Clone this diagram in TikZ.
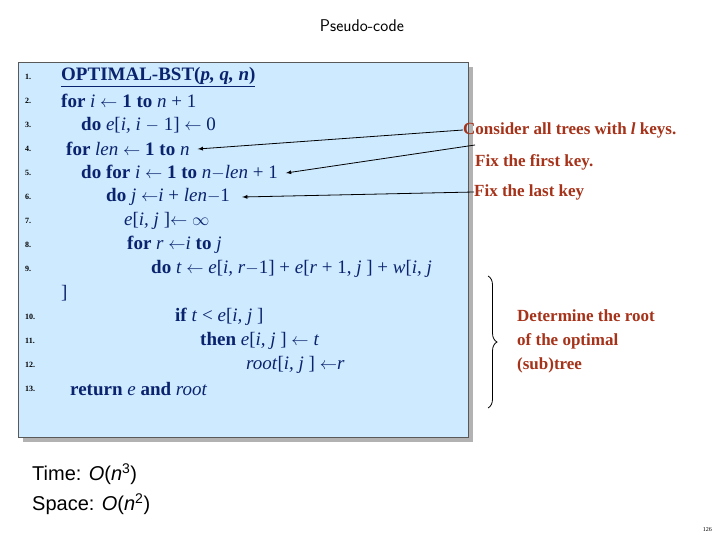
\documentclass[tikz,border=0pt]{standalone}
\usepackage{fontspec}
\setmainfont{Liberation Serif}
\newfontfamily\arial{Liberation Sans}
\usetikzlibrary{decorations.pathreplacing}
\definecolor{codeblue}{RGB}{10,35,110}
\definecolor{boxfill}{RGB}{206,234,255}
\definecolor{note}{RGB}{165,50,25}
\begin{document}
\begin{tikzpicture}[x=1pt,y=-1pt,
  code/.style={anchor=west,inner sep=0pt,text=codeblue,font=\fontsize{19}{21}\selectfont},
  num/.style={anchor=west,inner sep=0pt,text=black,font=\fontsize{8}{9}\selectfont\bfseries},
  notetext/.style={anchor=west,inner sep=0pt,text=note,font=\fontsize{17}{24}\selectfont\bfseries,align=left},
  pointer/.style={-latex,thick}]
\useasboundingbox (0,0) rectangle (720,540);
\fill[gray!60] (23,67) rectangle (473,442);
\draw[fill=boxfill,draw=gray!70!black] (18,62) rectangle (468,437);
\node[anchor=center,font=\fontsize{17}{20}\selectfont\sffamily] (title) at (362,26) {Pseudo-code};
\foreach \n/\y in {1/77,2/101,3/125,4/149,5/173,6/197,7/221,8/245,9/269,10/317,11/341,12/365,13/389}
  \node[num] (n\n) at (25,\y) {\n.};
\node[code] (l1) at (61,77) {\textbf{\underline{OPTIMAL-BST(\textit{p, q, n})}}};
\node[code] (l2) at (61,101) {\textbf{for} \textit{i} $\leftarrow$ \textbf{1 to} \textit{n} + 1};
\node[code] (l3) at (81,125) {\textbf{do} \textit{e}[\textit{i, i} $-$ 1] $\leftarrow$ 0};
\node[code] (l4) at (66,149) {\textbf{for} \textit{len} $\leftarrow$ \textbf{1 to} \textit{n}};
\node[code] (l5) at (81,173) {\textbf{do for} \textit{i} $\leftarrow$ \textbf{1 to} \textit{n}$-$\textit{len} + 1};
\node[code] (l6) at (106,197) {\textbf{do} \textit{j} $\leftarrow$\textit{i} + \textit{len}$-$1};
\node[code] (l7) at (124,221) {\textit{e}[\textit{i, j} ]$\leftarrow\infty$};
\node[code] (l8) at (127,245) {\textbf{for} \textit{r} $\leftarrow$\textit{i} \textbf{to} \textit{j}};
\node[code] (l9) at (151,269) {\textbf{do} \textit{t} $\leftarrow$ \textit{e}[\textit{i, r}$-$1] + \textit{e}[\textit{r} + 1, \textit{j} ] + \textit{w}[\textit{i, j}};
\node[code] (l9b) at (61,293) {]};
\node[code] (l10) at (175,317) {\textbf{if} \textit{t} < \textit{e}[\textit{i, j} ]};
\node[code] (l11) at (200,341) {\textbf{then} \textit{e}[\textit{i, j} ] $\leftarrow$ \textit{t}};
\node[code] (l12) at (246,365) {\textit{root}[\textit{i, j} ] $\leftarrow$\textit{r}};
\node[code] (l13) at (70,389) {\textbf{return} \textit{e} \textbf{and} \textit{root}};
\node[notetext] (c1) at (463,130) {Consider all trees with \textit{l} keys.};
\node[notetext] (c2) at (475,162) {Fix the first key.};
\node[notetext] (c3) at (474,192) {Fix the last key};
\coordinate (s2) at (475,145);
\draw[pointer] (c1.west) -- ([xshift=8pt]l4.east);
\draw[pointer] (s2) -- ([xshift=8pt]l5.east);
\draw[pointer] (c3.west) -- ([xshift=12pt]l6.east);
\node[notetext] (d) at (517,341) {Determine the root\\of the optimal\\(sub)tree};
\coordinate (b1) at (488,276);
\coordinate (b2) at (488,408);
\draw[thick,decorate,decoration={brace,amplitude=9pt}] (b1) -- (b2);
\node[anchor=west,inner sep=0pt,font=\arial\fontsize{20}{24}\selectfont] (time) at (32,474) {Time: \textit{O}(\textit{n}\textsuperscript{3})};
\node[anchor=west,inner sep=0pt,font=\arial\fontsize{20}{24}\selectfont] (space) at (32,504) {Space: \textit{O}(\textit{n}\textsuperscript{2})};
\node[anchor=east,inner sep=0pt,font=\fontsize{6}{7}\selectfont] (pg) at (712,530) {126};
\end{tikzpicture}
\end{document}
